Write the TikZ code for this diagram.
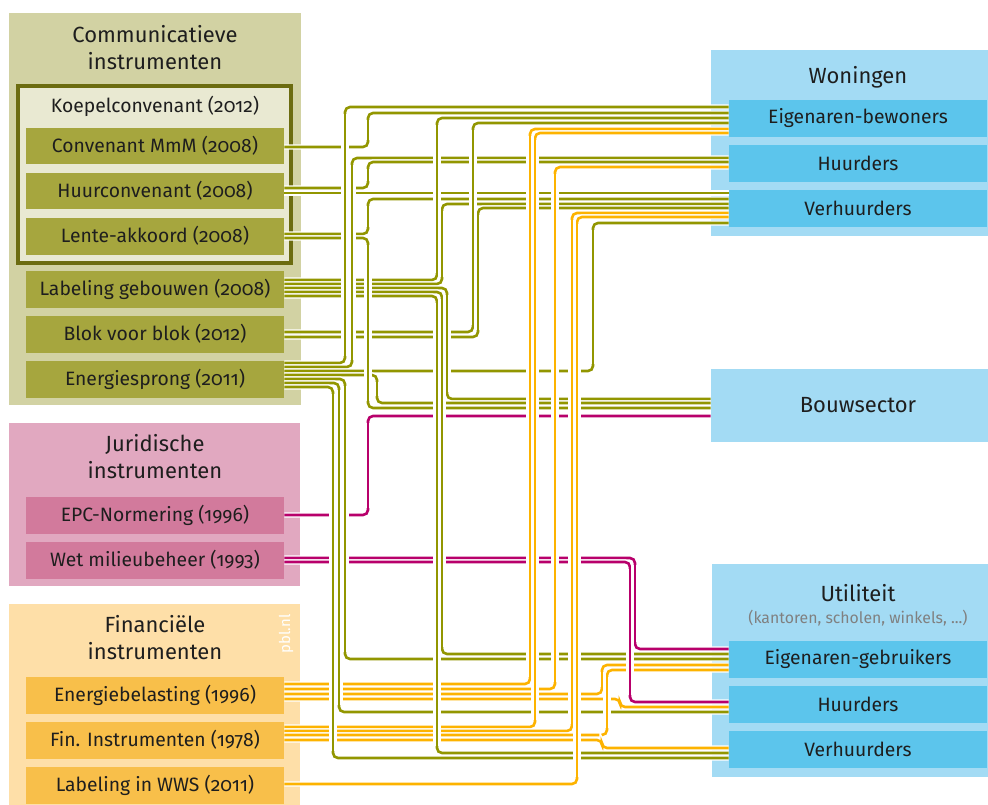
\documentclass[tikz,border=0pt]{standalone}
\usepackage{fontspec}
\setmainfont{Fira Sans}[Numbers=OldStyle]
\definecolor{commbg}{RGB}{210,210,163}
\definecolor{koepelbg}{RGB}{233,233,210}
\definecolor{koepelrand}{RGB}{108,108,16}
\definecolor{commitem}{RGB}{166,166,62}
\definecolor{olv}{RGB}{146,150,0}
\definecolor{juribg}{RGB}{225,168,192}
\definecolor{juriitem}{RGB}{210,122,156}
\definecolor{mag}{RGB}{184,0,107}
\definecolor{finbg}{RGB}{254,223,168}
\definecolor{finitem}{RGB}{248,191,74}
\definecolor{org}{RGB}{253,179,0}
\definecolor{doelbg}{RGB}{163,219,244}
\definecolor{doelitem}{RGB}{92,197,236}
\definecolor{tekst}{RGB}{30,30,30}
\newcommand{\itemfont}{\fontsize{11}{13}\selectfont}
\newcommand{\titlefont}{\fontsize{12.5}{15.3}\selectfont}
\newcommand{\wires}{%
olv/ener/363/345/107/eigbew,%
olv/mmm/147/368/113/eigbew,%
olv/label/280/437/118/eigbew,%
olv/blok/332/473/123/eigbew,%
org/enb/684/530/129/eigbew,%
org/fin/727/535/133/eigbew,%
olv/ener/367/352/158/whuur,%
olv/huur/188/368/162/whuur,%
org/enb/689/555/167/whuur,%
olv/lente/234/368/199/wverh,%
olv/label/284/442/204/wverh,%
olv/blok/337/478/208/wverh,%
org/fin/731/572/213/wverh,%
org/wws/784/577/217/wverh,%
olv/ener/371/593/223/wverh,%
olv/label/288/447/399/bouw,%
olv/ener/375/377/403/bouw,%
olv/lente/238/368/408/bouw,%
mag/epc/515/368/416/bouw,%
mag/wet/558/635/649/ueig,%
olv/label/292/442/654/ueig,%
olv/ener/379/345/659/ueig,%
org/enb/694/602/665/ueig,%
org/fin/735/607/670/ueig,%
mag/wet/562/630/702/uhuur,%
org/enb/699/620/707/uhuur,%
olv/ener/383/339/712/uhuur,%
org/fin/740/602/748/uverh,%
olv/label/296/437/753/uverh,%
olv/ener/387/333/758/uverh}

\begin{document}
\begin{tikzpicture}[x=0.02cm, y=-0.02cm,
    every node/.style={text=tekst},
    item/.style={minimum width=5.16cm, minimum height=0.74cm, inner sep=0pt, font=\itemfont},
    grptitle/.style={align=center, font=\titlefont},
    wire/.style={line width=0.052cm, rounded corners=0.1cm,
      preaction={draw=white, line width=0.106cm}},
    bridge/.style={line width=0.052cm,
      preaction={draw=white, line width=0.145cm}}]
    \useasboundingbox (0,0) rectangle (988,805);

    \fill[commbg] (9,13) rectangle (301,405);
    \fill[juribg] (9,423) rectangle (300,586);
    \fill[finbg] (9,604) rectangle (300,805);
    \fill[doelbg] (711,50) rectangle (988,236);
    \fill[doelbg] (712,564) rectangle (988,777);
    \draw[koepelrand, fill=koepelbg, line width=0.075cm] (18,86) rectangle (291,263);

    \node[grptitle] (commT) at (155,48) {Communicatieve\\instrumenten};
    \node[font=\itemfont] (koepel) at (155,106) {Koepelconvenant (2012)};
    \node[item, fill=commitem] (mmm) at (155,146) {Convenant MmM (2008)};
    \node[item, fill=commitem] (huur) at (155,191) {Huurconvenant (2008)};
    \node[item, fill=commitem] (lente) at (155,236) {Lente-akkoord (2008)};
    \node[item, fill=commitem] (label) at (155,289) {Labeling gebouwen (2008)};
    \node[item, fill=commitem] (blok) at (155,334) {Blok voor blok (2012)};
    \node[item, fill=commitem] (ener) at (155,379) {Energiesprong (2011)};

    \node[grptitle] (juriT) at (155,457) {Juridische\\instrumenten};
    \node[item, fill=juriitem] (epc) at (155,515) {EPC-Normering (1996)};
    \node[item, fill=juriitem] (wet) at (155,560) {Wet milieubeheer (1993)};

    \node[grptitle] (finT) at (155,638) {Financiële\\instrumenten};
    \node[rotate=90, text=white, font=\fontsize{8.5}{10}\selectfont] (pbl) at (286,634) {pbl.nl};
    \node[item, fill=finitem] (enb) at (155,695.5) {Energiebelasting (1996)};
    \node[item, fill=finitem] (fin) at (155,740) {Fin. Instrumenten (1978)};
    \node[item, fill=finitem] (wws) at (155,785.5) {Labeling in WWS (2011)};

    \node[font=\titlefont] (woningT) at (858,77) {Woningen};
    \node[item, fill=doelitem] (eigbew) at (858,118.5) {Eigenaren-bewoners};
    \node[item, fill=doelitem] (whuur) at (858,163.5) {Huurders};
    \node[item, fill=doelitem] (wverh) at (858,208.5) {Verhuurders};

    \node[minimum width=5.54cm, minimum height=1.46cm, inner sep=0pt, fill=doelbg,
      font=\titlefont] (bouw) at (849.5,405.5) {\hspace*{0.34cm}Bouwsector};

    \node[font=\titlefont] (utilT) at (858,593) {Utiliteit};
    \node[font=\fontsize{9}{11}\selectfont, text=gray] (utilsub) at (858,618) {(kantoren, scholen, winkels, ...)};
    \node[item, fill=doelitem] (ueig) at (858,659) {Eigenaren-gebruikers};
    \node[item, fill=doelitem] (uhuur) at (858,704) {Huurders};
    \node[item, fill=doelitem] (uverh) at (858,749) {Verhuurders};

    \draw[wire, draw=olv] (huur.east |- 0,193) -- (wverh.west |- 0,193);
    \foreach \wcol/\wsrc/\wsy/\wvx/\wty/\wtgt in \wires
      \draw[wire, draw=\wcol] (\wsrc.east |- 0,\wsy) -- (\wvx,\wsy) -- (\wvx,\wty) -- (\wtgt.west |- 0,\wty);
    \foreach \wcol/\wsrc/\wsy/\wvx/\wty/\wtgt in \wires {
      \pgfmathsetmacro\wya{min(\wsy,\wty)+7}
      \pgfmathsetmacro\wyb{max(\wsy,\wty)-7}
      \ifdim\wyb pt>\wya pt \draw[bridge, draw=\wcol] (\wvx,\wya) -- (\wvx,\wyb); \fi
    }
\end{tikzpicture}
\end{document}
